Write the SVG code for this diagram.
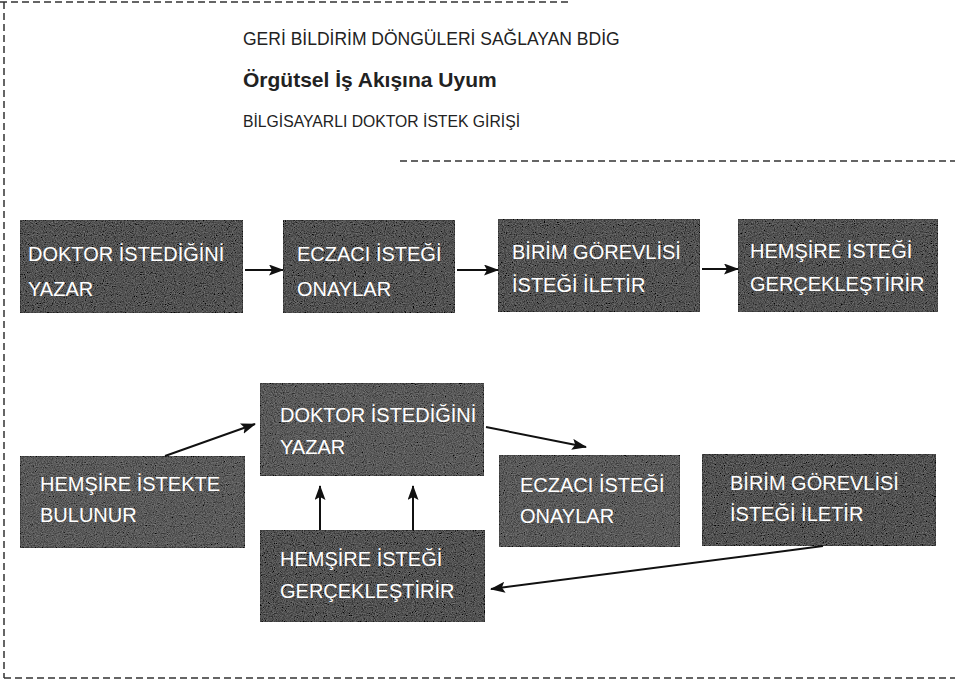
<svg xmlns="http://www.w3.org/2000/svg" width="955" height="688" viewBox="0 0 955 688">
<defs>
<style>
.frame{stroke:#333;stroke-width:1.5;stroke-dasharray:7 4;fill:none}
.hd{font-family:"Liberation Sans",Arial,sans-serif;fill:#222}
.box{fill:#585858;stroke:#2a2a2a;stroke-width:1;filter:url(#grain)}
.dk{fill:#4e4e4e}
.bt{font-family:"Liberation Sans",Arial,sans-serif;font-size:20px;fill:#fff}
.arr{stroke:#111;stroke-width:2;fill:none;marker-end:url(#ah)}
</style>
<marker id="ah" markerUnits="userSpaceOnUse" markerWidth="15" markerHeight="11" refX="14" refY="5.5" orient="auto">
<path d="M0,0 L15,5.5 L0,11 L3,5.5 z" fill="#111"/>
</marker>
<filter id="grain" x="0" y="0" width="100%" height="100%">
<feTurbulence type="fractalNoise" baseFrequency="0.9" numOctaves="2" seed="4" result="n"/>
<feColorMatrix in="n" type="matrix" values="0.33 0.33 0.33 0 0 0.33 0.33 0.33 0 0 0.33 0.33 0.33 0 0 0 0 0 0 1" result="g"/>
<feComposite in="g" in2="SourceGraphic" operator="arithmetic" k1="0" k2="0.45" k3="0.8" k4="-0.2" result="m"/>
<feComposite in="m" in2="SourceAlpha" operator="in"/>
</filter>
</defs>

<g id="frame">
<line class="frame" x1="0" y1="2" x2="570" y2="2"/>
<line class="frame" x1="4" y1="2" x2="4" y2="678"/>
<line class="frame" x1="4" y1="678" x2="955" y2="678"/>
<line class="frame" x1="400" y1="161" x2="955" y2="161"/>
</g>

<g id="header">
<text class="hd" x="243" y="45" font-size="17.5">GERİ BİLDİRİM DÖNGÜLERİ SAĞLAYAN BDİG</text>
<text class="hd" x="243" y="87" font-size="21" font-weight="bold">Örgütsel İş Akışına Uyum</text>
<text class="hd" x="243" y="127" font-size="17" textLength="277" lengthAdjust="spacingAndGlyphs">BİLGİSAYARLI DOKTOR İSTEK GİRİŞİ</text>
</g>

<g id="n1">
<rect class="box dk" x="20" y="220" width="223" height="93"/>
<text class="bt" x="28" y="261">DOKTOR İSTEDİĞİNİ</text>
<text class="bt" x="28" y="296">YAZAR</text>
</g>
<g id="n2">
<rect class="box dk" x="283" y="220" width="172" height="93"/>
<text class="bt" x="297" y="261">ECZACI İSTEĞİ</text>
<text class="bt" x="297" y="296">ONAYLAR</text>
</g>
<g id="n3">
<rect class="box dk" x="498" y="219" width="202" height="93"/>
<text class="bt" x="512" y="259">BİRİM GÖREVLİSİ</text>
<text class="bt" x="512" y="292">İSTEĞİ İLETİR</text>
</g>
<g id="n4">
<rect class="box dk" x="738" y="219" width="200" height="93"/>
<text class="bt" x="750" y="258">HEMŞİRE İSTEĞİ</text>
<text class="bt" x="750" y="291">GERÇEKLEŞTİRİR</text>
</g>

<g id="n5">
<rect class="box" x="260" y="383" width="224" height="93"/>
<text class="bt" x="280" y="422">DOKTOR İSTEDİĞİNİ</text>
<text class="bt" x="280" y="454">YAZAR</text>
</g>
<g id="n6">
<rect class="box" x="20" y="456" width="225" height="92"/>
<text class="bt" x="40" y="491">HEMŞİRE İSTEKTE</text>
<text class="bt" x="40" y="522">BULUNUR</text>
</g>
<g id="n7">
<rect class="box" x="499" y="455" width="181" height="92"/>
<text class="bt" x="520" y="492">ECZACI İSTEĞİ</text>
<text class="bt" x="520" y="523">ONAYLAR</text>
</g>
<g id="n8">
<rect class="box dk" x="702" y="454" width="234" height="92"/>
<text class="bt" x="730" y="490">BİRİM GÖREVLİSİ</text>
<text class="bt" x="730" y="521">İSTEĞİ İLETİR</text>
</g>
<g id="n9">
<rect class="box dk" x="260" y="530" width="225" height="92"/>
<text class="bt" x="280" y="566">HEMŞİRE İSTEĞİ</text>
<text class="bt" x="280" y="598">GERÇEKLEŞTİRİR</text>
</g>

<g id="connectors">
<line class="arr" x1="245" y1="270" x2="283" y2="270"/>
<line class="arr" x1="457" y1="270" x2="498" y2="270"/>
<line class="arr" x1="702" y1="269" x2="738" y2="269"/>
<line class="arr" x1="165" y1="456" x2="255" y2="424"/>
<line class="arr" x1="486" y1="427" x2="586" y2="447"/>
<line class="arr" x1="320" y1="530" x2="320" y2="486"/>
<line class="arr" x1="413" y1="530" x2="413" y2="486"/>
<line class="arr" x1="823" y1="546" x2="491" y2="589"/>
</g>
</svg>
